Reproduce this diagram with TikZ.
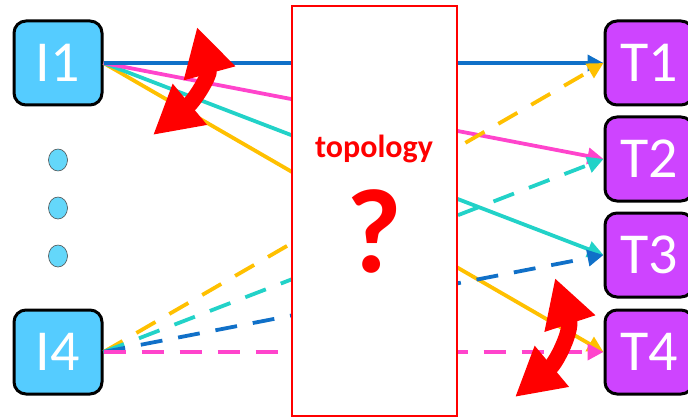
\documentclass[tikz,border=0pt]{standalone}
\usepackage{fontspec}
\setmainfont{Carlito}
\usetikzlibrary{arrows.meta,shapes.geometric}
\definecolor{inblue}{RGB}{85,204,255}
\definecolor{tpurple}{RGB}{206,68,255}
\definecolor{lblue}{RGB}{16,112,200}
\definecolor{lpink}{RGB}{255,68,204}
\definecolor{lteal}{RGB}{34,210,200}
\definecolor{lyellow}{RGB}{255,192,0}
\definecolor{dotblue}{RGB}{100,215,250}
\begin{document}
\begin{tikzpicture}[x=1pt,y=-1pt,
  inbox/.style={draw=black, line width=3pt, rounded corners=12pt, fill=inblue, minimum width=88pt, minimum height=84pt, text=white, font=\fontsize{58}{58}\selectfont, inner sep=0pt},
  tbox/.style={inbox, fill=tpurple},
  dotnode/.style={ellipse, draw=black!70, line width=0.6pt, fill=dotblue, minimum width=19pt, minimum height=22pt, inner sep=0pt},
  conn/.style={line width=3.8pt, -{Triangle[length=16pt,width=16pt]}},
  dconn/.style={conn, dash pattern=on 22pt off 16pt},
  swaparrow/.style={red, line width=16pt, {Triangle[length=48pt,width=50pt]}-{Triangle[length=48pt,width=50pt]}}
]
\useasboundingbox (0,0) rectangle (688,417);
% input nodes
\node[inbox] (I1) at (58,63) {I1};
\node[inbox] (I4) at (58,352) {I4};
\node[dotnode] (d1) at (58,160) {};
\node[dotnode] (d2) at (58,208) {};
\node[dotnode] (d3) at (58,256) {};
% target nodes
\node[tbox] (T1) at (649,63) {T1};
\node[tbox] (T2) at (649,159) {T2};
\node[tbox] (T3) at (649,255) {T3};
\node[tbox] (T4) at (649,352) {T4};
% connectors
\draw[conn, lyellow] (I1.east) -- (T4.west);
\draw[conn, lteal] (I1.east) -- (T3.west);
\draw[conn, lpink] (I1.east) -- (T2.west);
\draw[conn, lblue] (I1.east) -- (T1.west);
\draw[dconn, lyellow] (I4.east) -- (T1.west);
\draw[dconn, lteal] (I4.east) -- (T2.west);
\draw[dconn, lblue] (I4.east) -- (T3.west);
\draw[dconn, lpink] (I4.east) -- (T4.west);
% topology box
\node[draw=red, line width=2pt, fill=white, minimum width=165pt, minimum height=410pt, inner sep=0pt] (topo) at (374.5,211) {};
\node[text=red, font=\bfseries\fontsize{32}{32}\selectfont] (toptext) at (374,149) {topology};
\node[text=red, font=\bfseries\fontsize{120}{120}\selectfont, inner sep=0pt] (qmark) at (374,231) {?};
% red swap arrows
\draw[swaparrow] (153,135) .. controls (195,100) and (210,75) .. (197,27);
\draw[swaparrow] (515,397) .. controls (557,362) and (572,330) .. (555,278);
\end{tikzpicture}
\end{document}
